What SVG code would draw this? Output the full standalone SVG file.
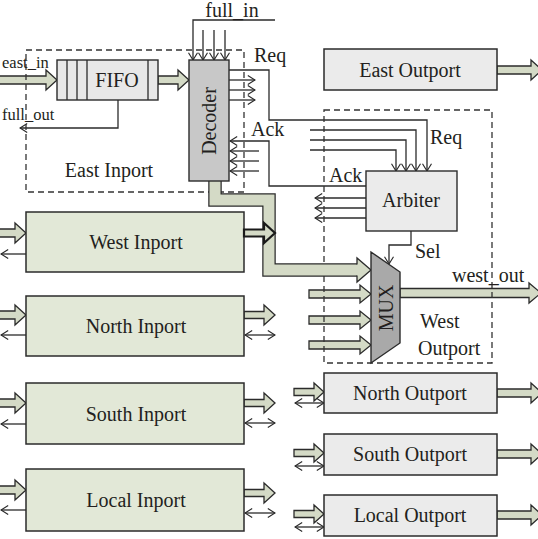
<svg xmlns="http://www.w3.org/2000/svg" width="538" height="539" viewBox="0 0 538 539">
<defs>
<style>
text{font-family:"Liberation Serif","Times New Roman",serif;font-size:20px;fill:#231f20}
.mid{text-anchor:middle}
.sm{font-size:16.5px}
.ln{fill:none;stroke:#2b2b2b;stroke-width:1.3}
.ar{marker-end:url(#chev)}
.dbl{marker-start:url(#chev);marker-end:url(#chev)}
.fat{fill:#d4dac6;stroke:#2b2b2b;stroke-width:1.3;stroke-linejoin:miter}
.inp{fill:#e2e8d7;stroke:#2b2b2b;stroke-width:1.5}
.outp{fill:#ebebeb;stroke:#2b2b2b;stroke-width:1.5}
.dash{fill:none;stroke:#333;stroke-width:1.3;stroke-dasharray:6 4}
</style>
<marker id="chev" viewBox="0 0 10 12" refX="9" refY="6" markerWidth="9" markerHeight="11" markerUnits="userSpaceOnUse" orient="auto-start-reverse">
<path d="M1,1 L9,6 L1,11" fill="none" stroke="#2b2b2b" stroke-width="1.3"/>
</marker>
</defs>

<g id="connectors">
<!-- east_in and FIFO->Decoder -->
<polygon class="fat" points="-2,76 46,76 46,70 57,80 46,90 46,84 -2,84"/>
<polygon class="fat" points="158,76 178,76 178,70 189,80 178,90 178,84 158,84"/>
<!-- full_out -->
<polyline class="ln ar" points="118,100 118,128 20,128"/>
<!-- full_in -->
<polyline class="ln ar" points="275,20 193,20 193,60"/>
<line class="ln ar" x1="203" y1="30" x2="203" y2="60"/>
<line class="ln ar" x1="214" y1="30" x2="214" y2="60"/>
<line class="ln ar" x1="225" y1="30" x2="225" y2="60"/>
<!-- Req from decoder -->
<polyline class="ln ar" points="229,70 269,70 269,120 427,120 427,171"/>
<line class="ln ar" x1="229" y1="80" x2="255" y2="80"/>
<line class="ln ar" x1="229" y1="90" x2="255" y2="90"/>
<line class="ln ar" x1="229" y1="100" x2="255" y2="100"/>
<!-- other Req into arbiter -->
<polyline class="ln ar" points="310,130 416,130 416,171"/>
<polyline class="ln ar" points="310,140 406,140 406,171"/>
<polyline class="ln ar" points="310,150 396,150 396,171"/>
<!-- Ack -->
<polyline class="ln ar" points="366,186 269,186 269,141 230,141"/>
<line class="ln ar" x1="259" y1="151" x2="230" y2="151"/>
<line class="ln ar" x1="259" y1="161" x2="230" y2="161"/>
<line class="ln ar" x1="259" y1="171" x2="230" y2="171"/>
<line class="ln ar" x1="366" y1="198" x2="315" y2="198"/>
<line class="ln ar" x1="366" y1="208" x2="315" y2="208"/>
<line class="ln ar" x1="366" y1="218" x2="315" y2="218"/>
<!-- Sel -->
<polyline class="ln ar" points="411,231 411,245 389,245 389,264"/>
<!-- MUX inputs -->
<polygon class="fat" points="309,290 360,290 360,285 371,294 360,303 360,298 309,298"/>
<polygon class="fat" points="309,316 360,316 360,311 371,320 360,329 360,324 309,324"/>
<polygon class="fat" points="309,341 360,341 360,336 371,345 360,354 360,349 309,349"/>
<!-- west_out -->
<polygon class="fat" points="400,288.5 529,288.5 529,283 541,293 529,303 529,297.5 400,297.5"/>
<!-- inport left sides -->
<polygon class="fat" points="-2,229 15,229 15,223 26,233 15,243 15,237 -2,237"/>
<line class="ln ar" x1="26" y1="254" x2="1" y2="254"/>
<polygon class="fat" points="-2,311 15,311 15,305 26,315 15,325 15,319 -2,319"/>
<line class="ln ar" x1="26" y1="335" x2="1" y2="335"/>
<polygon class="fat" points="-2,399 15,399 15,393 26,403 15,413 15,407 -2,407"/>
<line class="ln ar" x1="26" y1="424" x2="1" y2="424"/>
<polygon class="fat" points="-2,486 15,486 15,480 26,490 15,500 15,494 -2,494"/>
<line class="ln ar" x1="26" y1="510" x2="1" y2="510"/>
<!-- inport right sides -->
<polygon class="fat" points="244,311.5 264,311.5 264,305 275,315 264,325 264,318.5 244,318.5"/>
<line class="ln dbl" x1="245" y1="335" x2="275" y2="335"/>
<polygon class="fat" points="244,399.5 264,399.5 264,393 275,403 264,413 264,406.5 244,406.5"/>
<line class="ln dbl" x1="245" y1="423" x2="275" y2="423"/>
<polygon class="fat" points="244,489.5 264,489.5 264,483 275,493 264,503 264,496.5 244,496.5"/>
<line class="ln dbl" x1="245" y1="513" x2="275" y2="513"/>
<!-- outport left sides -->
<polygon class="fat" points="294,388.5 314,388.5 314,383 324,392 314,401 314,395.5 294,395.5"/>
<line class="ln dbl" x1="295" y1="403" x2="324" y2="403"/>
<polygon class="fat" points="294,449.5 314,449.5 314,444 324,453 314,462 314,456.5 294,456.5"/>
<line class="ln dbl" x1="295" y1="466" x2="324" y2="466"/>
<polygon class="fat" points="294,510.5 314,510.5 314,505 324,514 314,523 314,517.5 294,517.5"/>
<line class="ln dbl" x1="295" y1="527" x2="324" y2="527"/>
<!-- outport right sides -->
<polygon class="fat" points="497,66 531,66 531,60 542,70 531,80 531,74 497,74"/>
<polygon class="fat" points="497,389 531,389 531,383 542,393 531,403 531,397 497,397"/>
<polygon class="fat" points="497,450 531,450 531,444 542,454 531,464 531,458 497,458"/>
<polygon class="fat" points="497,511 531,511 531,505 542,515 531,525 531,519 497,519"/>
</g>

<g id="east-inport">
<rect class="dash" x="26" y="50" width="218" height="142"/>
<text x="109" y="177" class="mid">East Inport</text>
</g>
<g id="west-outport">
<rect class="dash" x="324" y="110" width="168" height="253"/>
<text x="420" y="328">West</text>
<text x="418" y="355">Outport</text>
</g>

<g id="pipe">
<polyline points="215,181 215,200 269,200 269,270 358,270" fill="none" stroke="#2b2b2b" stroke-width="13.5" stroke-linejoin="miter"/>
<polyline points="215,180 215,200 269,200 269,270 359,270" fill="none" stroke="#d4dac6" stroke-width="11" stroke-linejoin="miter"/>
<path d="M357,264.5 L357,258 L371,270 L357,282 L357,275.5" fill="#d4dac6" stroke="#2b2b2b" stroke-width="1.3"/>
</g>

<g id="fifo">
<rect x="57" y="60" width="101" height="40" fill="#e8e8e8" stroke="#2b2b2b" stroke-width="1.4"/>
<line class="ln" x1="67" y1="60" x2="67" y2="100"/>
<line class="ln" x1="77" y1="60" x2="77" y2="100"/>
<line class="ln" x1="87" y1="60" x2="87" y2="100"/>
<line class="ln" x1="148" y1="60" x2="148" y2="100"/>
<text x="117" y="87" class="mid">FIFO</text>
</g>

<g id="decoder">
<rect x="189" y="60" width="40" height="121" fill="#c8c8c8" stroke="#2b2b2b" stroke-width="1.4"/>
<text transform="translate(216,121) rotate(-90)" class="mid">Decoder</text>
</g>

<g id="arbiter">
<rect x="366" y="171" width="91" height="60" fill="#ebebeb" stroke="#2b2b2b" stroke-width="1.4"/>
<text x="411" y="207" class="mid">Arbiter</text>
</g>

<g id="mux">
<polygon points="371,252 400,272 400,343 371,363" fill="#a9a9a9" stroke="#2b2b2b" stroke-width="1.4"/>
<text transform="translate(393,308) rotate(-90)" class="mid">MUX</text>
</g>

<g id="west-inport">
<rect class="inp" x="26" y="212" width="218" height="60"/>
<text x="136" y="249" class="mid">West Inport</text>
<polygon points="244,229.5 264,229.5 264,223 275,233 264,243 264,236.5 244,236.5" fill="#d4dac6" stroke="#1a1a1a" stroke-width="2.2"/>
</g>
<g id="north-inport">
<rect class="inp" x="26" y="296" width="218" height="60"/>
<text x="136" y="333" class="mid">North Inport</text>
</g>
<g id="south-inport">
<rect class="inp" x="26" y="383" width="218" height="61"/>
<text x="136" y="421" class="mid">South Inport</text>
</g>
<g id="local-inport">
<rect class="inp" x="26" y="469" width="218" height="62"/>
<text x="136" y="507" class="mid">Local Inport</text>
</g>

<g id="east-outport">
<rect class="outp" x="324" y="49" width="173" height="41"/>
<text x="410" y="77" class="mid">East Outport</text>
</g>
<g id="north-outport">
<rect class="outp" x="324" y="373" width="173" height="40"/>
<text x="410" y="400" class="mid">North Outport</text>
</g>
<g id="south-outport">
<rect class="outp" x="324" y="434" width="173" height="41"/>
<text x="410" y="461" class="mid">South Outport</text>
</g>
<g id="local-outport">
<rect class="outp" x="324" y="495" width="173" height="41"/>
<text x="410" y="522" class="mid">Local Outport</text>
</g>

<g id="labels">
<text x="2" y="68" class="sm">east_in</text>
<text x="2" y="120" class="sm">full_out</text>
<text x="232" y="17" class="mid">full_in</text>
<text x="254" y="62">Req</text>
<text x="251" y="136">Ack</text>
<text x="430" y="144">Req</text>
<text x="329" y="182">Ack</text>
<text x="415" y="258">Sel</text>
<text x="452" y="282">west_out</text>
</g>
</svg>
